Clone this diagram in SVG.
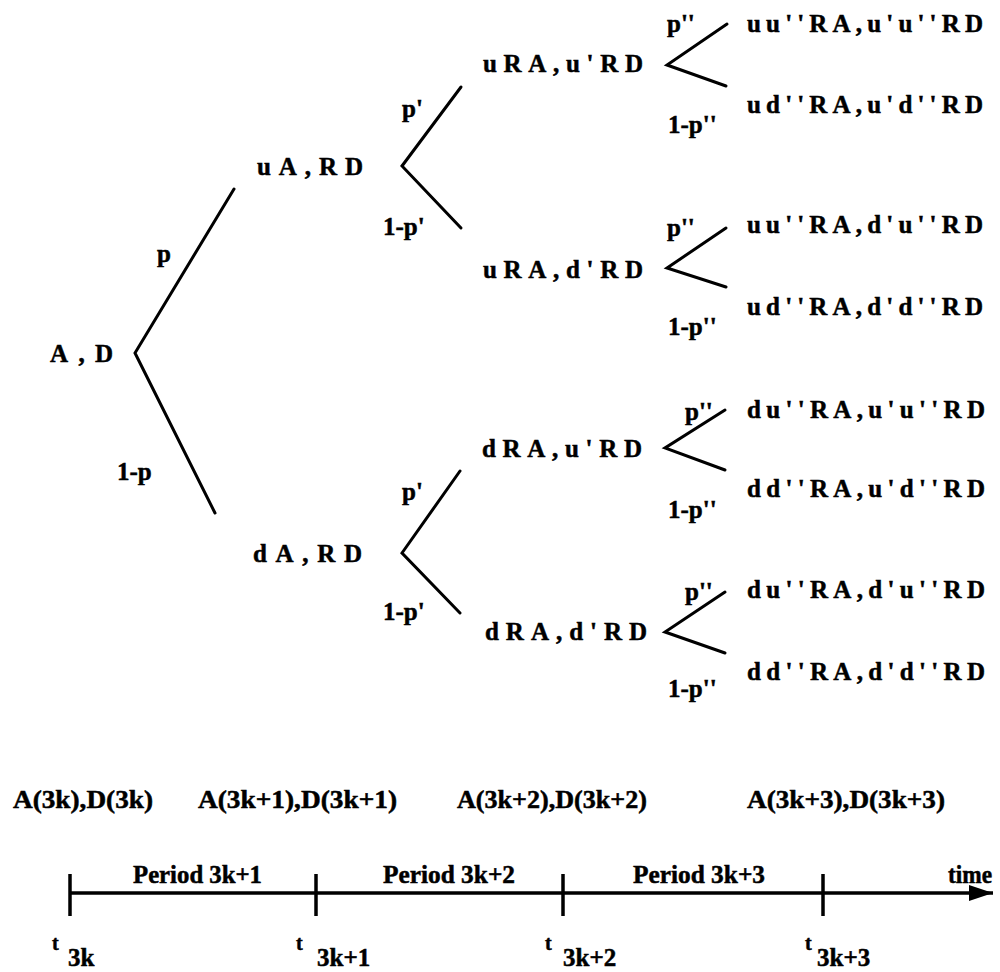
<svg xmlns="http://www.w3.org/2000/svg" width="1000" height="972" viewBox="0 0 1000 972">
<defs>
<style>
text{font-family:"Liberation Serif","Times New Roman",serif;font-weight:bold;font-size:25px;fill:#000;stroke:#000;stroke-width:0.5}
.sm{font-size:20px}
.ln{stroke:#000;stroke-width:3;fill:none;stroke-linecap:round}
.tl{stroke:#000;stroke-width:3.5;fill:none}
</style>
<marker id="arr" markerUnits="userSpaceOnUse" markerWidth="26" markerHeight="18" refX="24" refY="9" orient="auto">
<path d="M0,1 L24,9 L0,17 Z" fill="#000"/>
</marker>
</defs>
<rect width="1000" height="972" fill="#fff"/>
<g id="connectors">
<path class="ln" d="M234,189 L135,353 L215,513"/>
<path class="ln" d="M461,87 L402,166 L461,228"/>
<path class="ln" d="M460,471 L402,553 L460,613"/>
<path class="ln" d="M727,24 L667,65 L726,86"/>
<path class="ln" d="M726,228 L667,268 L726,287"/>
<path class="ln" d="M725,410 L665,448 L725,470"/>
<path class="ln" d="M725,592 L665,632 L725,653"/>
</g>
<g id="node-root"><text x="50" y="362" textLength="63" lengthAdjust="spacing">A,D</text></g>
<g id="node-u"><text x="257" y="175" textLength="106" lengthAdjust="spacing">uA,RD</text></g>
<g id="node-d"><text x="253" y="562" textLength="109" lengthAdjust="spacing">dA,RD</text></g>
<g id="node-uu"><text x="483" y="72" textLength="160" lengthAdjust="spacing">uRA,u'RD</text></g>
<g id="node-ud"><text x="483" y="278" textLength="160" lengthAdjust="spacing">uRA,d'RD</text></g>
<g id="node-du"><text x="482" y="457" textLength="160" lengthAdjust="spacing">dRA,u'RD</text></g>
<g id="node-dd"><text x="485" y="640" textLength="162" lengthAdjust="spacing">dRA,d'RD</text></g>
<g id="leaf-1"><text x="747" y="32" textLength="236" lengthAdjust="spacing">uu''RA,u'u''RD</text></g>
<g id="leaf-2"><text x="747" y="113" textLength="236" lengthAdjust="spacing">ud''RA,u'd''RD</text></g>
<g id="leaf-3"><text x="747" y="233" textLength="236" lengthAdjust="spacing">uu''RA,d'u''RD</text></g>
<g id="leaf-4"><text x="747" y="315" textLength="236" lengthAdjust="spacing">ud''RA,d'd''RD</text></g>
<g id="leaf-5"><text x="747" y="418" textLength="238" lengthAdjust="spacing">du''RA,u'u''RD</text></g>
<g id="leaf-6"><text x="747" y="497" textLength="238" lengthAdjust="spacing">dd''RA,u'd''RD</text></g>
<g id="leaf-7"><text x="747" y="598" textLength="238" lengthAdjust="spacing">du''RA,d'u''RD</text></g>
<g id="leaf-8"><text x="747" y="680" textLength="238" lengthAdjust="spacing">dd''RA,d'd''RD</text></g>
<g id="prob-labels">
<text x="157" y="262">p</text>
<text x="117" y="480">1-p</text>
<text x="402" y="117">p'</text>
<text x="383" y="235">1-p'</text>
<text x="402" y="500">p'</text>
<text x="383" y="620">1-p'</text>
<text x="667" y="32">p''</text>
<text x="668" y="133">1-p''</text>
<text x="667" y="236">p''</text>
<text x="668" y="335">1-p''</text>
<text x="685" y="420">p''</text>
<text x="668" y="518">1-p''</text>
<text x="685" y="600">p''</text>
<text x="668" y="697">1-p''</text>
</g>
<g id="timeline">
<line class="tl" x1="70" y1="893" x2="993" y2="893" marker-end="url(#arr)"/>
<line class="tl" x1="70" y1="874" x2="70" y2="916"/>
<line class="tl" x1="316" y1="874" x2="316" y2="916"/>
<line class="tl" x1="563" y1="874" x2="563" y2="916"/>
<line class="tl" x1="823" y1="874" x2="823" y2="916"/>
</g>
<g id="state-labels">
<text x="13" y="808" textLength="140" lengthAdjust="spacingAndGlyphs">A(3k),D(3k)</text>
<text x="198" y="808" textLength="199" lengthAdjust="spacingAndGlyphs">A(3k+1),D(3k+1)</text>
<text x="457" y="808" textLength="190" lengthAdjust="spacingAndGlyphs">A(3k+2),D(3k+2)</text>
<text x="747" y="808" textLength="198" lengthAdjust="spacingAndGlyphs">A(3k+3),D(3k+3)</text>
</g>
<g id="period-labels">
<text x="133" y="883" textLength="129" lengthAdjust="spacingAndGlyphs">Period 3k+1</text>
<text x="383" y="883" textLength="132" lengthAdjust="spacingAndGlyphs">Period 3k+2</text>
<text x="633" y="883" textLength="132" lengthAdjust="spacingAndGlyphs">Period 3k+3</text>
<text x="948" y="883" textLength="44" lengthAdjust="spacingAndGlyphs">time</text>
</g>
<g id="time-labels">
<text class="sm" x="52" y="950">t</text><text x="68" y="966">3k</text>
<text class="sm" x="296" y="950">t</text><text x="317" y="966">3k+1</text>
<text class="sm" x="545" y="950">t</text><text x="563" y="966">3k+2</text>
<text class="sm" x="805" y="950">t</text><text x="817" y="966">3k+3</text>
</g>
</svg>
